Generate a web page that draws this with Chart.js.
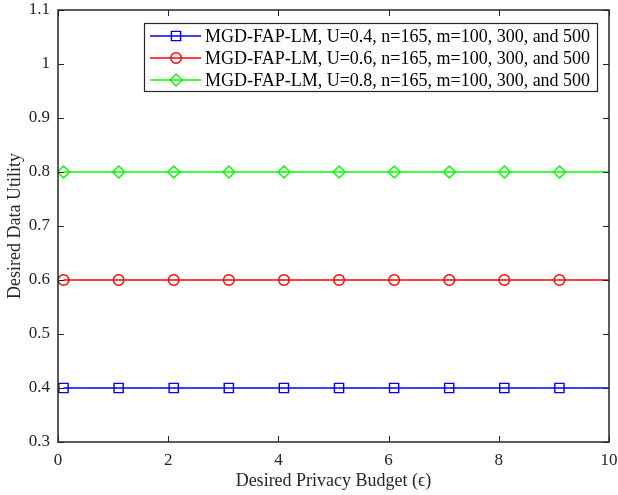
<!DOCTYPE html>
<html>
<head>
<meta charset="utf-8">
<script src="https://cdn.jsdelivr.net/npm/chart.js@4.4.0/dist/chart.umd.min.js"></script>
<style>
  html, body { margin: 0; padding: 0; background: #fff; }
  #wrap { width: 618px; height: 495px; position: relative; }
</style>
</head>
<body>
<div id="wrap"><canvas id="chart" width="618" height="495"></canvas></div>
<script>
// Data
const budgetX = [0.1, 1.1, 2.1, 3.1, 4.1, 5.1, 6.1, 7.1, 8.1, 9.1, 10];
const utility04 = [0.4, 0.4, 0.4, 0.4, 0.4, 0.4, 0.4, 0.4, 0.4, 0.4, 0.4];
const utility06 = [0.6, 0.6, 0.6, 0.6, 0.6, 0.6, 0.6, 0.6, 0.6, 0.6, 0.6];
const utility08 = [0.8, 0.8, 0.8, 0.8, 0.8, 0.8, 0.8, 0.8, 0.8, 0.8, 0.8];
const seriesLabels = [
    'MGD-FAP-LM, U=0.4, n=165, m=100, 300, and 500',
    'MGD-FAP-LM, U=0.6, n=165, m=100, 300, and 500',
    'MGD-FAP-LM, U=0.8, n=165, m=100, 300, and 500'
];
const xTicks = [0, 2, 4, 6, 8, 10];
const yTicks = [0.3, 0.4, 0.5, 0.6, 0.7, 0.8, 0.9, 1, 1.1];

const FONT = '"Liberation Serif", "Times New Roman", serif';

function toPoints(xs, ys) {
    return xs.map((x, i) => ({ x: x, y: ys[i] }));
}

// last point has no marker (line runs to the right edge)
function radii(r) {
    return budgetX.map((x, i) => i === budgetX.length - 1 ? 0 : r);
}

const datasets = [
    { label: seriesLabels[0], data: toPoints(budgetX, utility04), borderColor: '#0000ff', pointStyle: 'rect', pointRadius: radii(6.5) },
    { label: seriesLabels[1], data: toPoints(budgetX, utility06), borderColor: '#ff0000', pointStyle: 'circle', pointRadius: radii(5.3) },
    { label: seriesLabels[2], data: toPoints(budgetX, utility08), borderColor: '#00ff00', pointStyle: 'rectRot', pointRadius: radii(6) }
].map(d => Object.assign(d, {
    showLine: true,
    borderWidth: 1.4,
    pointBorderColor: d.borderColor,
    pointBackgroundColor: 'rgba(0,0,0,0)',
    pointBorderWidth: 1.4,
    pointHoverRadius: 0,
    fill: false,
    tension: 0
}));

// box, inward ticks, and MATLAB style legend
const matlabFrame = {
    id: 'matlabFrame',
    afterDraw(chart) {
        const ctx = chart.ctx;
        const a = chart.chartArea;
        const xs = chart.scales.x, ys = chart.scales.y;
        ctx.save();
        ctx.strokeStyle = '#262626';
        ctx.lineWidth = 1;
        ctx.beginPath();
        xTicks.forEach(v => {
            const px = Math.round(xs.getPixelForValue(v)) + 0.5;
            ctx.moveTo(px, a.bottom); ctx.lineTo(px, a.bottom - 6);
            ctx.moveTo(px, a.top); ctx.lineTo(px, a.top + 6);
        });
        yTicks.forEach(v => {
            const py = Math.round(ys.getPixelForValue(v)) + 0.5;
            ctx.moveTo(a.left, py); ctx.lineTo(a.left + 6, py);
            ctx.moveTo(a.right, py); ctx.lineTo(a.right - 6, py);
        });
        ctx.stroke();
        ctx.lineWidth = 1.5;
        ctx.strokeRect(a.left, a.top, a.right - a.left, a.bottom - a.top);

        // legend
        const lx = 144, ly = 23, lw = 453, lh = 68;
        ctx.fillStyle = '#fff';
        ctx.fillRect(lx, ly, lw, lh);
        ctx.lineWidth = 1.2;
        ctx.strokeStyle = '#262626';
        ctx.strokeRect(lx + 0.5, ly + 0.5, lw, lh);
        ctx.font = '18px ' + FONT;
        ctx.textBaseline = 'middle';
        chart.data.datasets.forEach((d, i) => {
            const cy = ly + 13 + i * 22;
            ctx.strokeStyle = d.borderColor;
            ctx.lineWidth = 1.4;
            ctx.beginPath();
            ctx.moveTo(lx + 6, cy); ctx.lineTo(lx + 57, cy);
            ctx.stroke();
            ctx.fillStyle = 'rgba(0,0,0,0)';
            Chart.helpers.drawPoint(ctx, {
                pointStyle: d.pointStyle,
                radius: d.pointRadius[0],
                borderWidth: 1.4
            }, lx + 32, cy);
            ctx.fillStyle = '#000';
            ctx.fillText(d.label, lx + 61, cy + 1);
        });
        ctx.restore();
    }
};

new Chart(document.getElementById('chart'), {
    type: 'scatter',
    data: { datasets: datasets },
    options: {
        responsive: false,
        animation: false,
        devicePixelRatio: 1,
        layout: { padding: { top: 10, right: 9, left: 0, bottom: 0 } },
        plugins: { legend: { display: false }, tooltip: { enabled: false } },
        scales: {
            x: {
                type: 'linear',
                min: 0, max: 10,
                afterBuildTicks: s => { s.ticks = xTicks.map(v => ({ value: v })); },
                afterFit: s => { s.height = 53; s.paddingLeft = 0; s.paddingRight = 0; },
                grid: { display: false, drawTicks: false },
                border: { display: false },
                ticks: { color: '#262626', font: { family: FONT, size: 17 }, padding: 8, maxRotation: 0 },
                title: { display: true, text: 'Desired Privacy Budget (\u03f5)', color: '#262626', font: { family: FONT, size: 18 }, padding: { top: 2, bottom: 3 } }
            },
            y: {
                type: 'linear',
                min: 0.3, max: 1.1,
                afterBuildTicks: s => { s.ticks = yTicks.map(v => ({ value: v })); },
                afterFit: s => { s.width = 58; s.paddingTop = 0; s.paddingBottom = 0; },
                grid: { display: false, drawTicks: false },
                border: { display: false },
                ticks: { color: '#262626', font: { family: FONT, size: 17 }, padding: 8, callback: v => String(Math.round(v * 10) / 10) },
                title: { display: true, text: 'Desired Data Utility', color: '#262626', font: { family: FONT, size: 18 }, padding: { top: 4, bottom: 0 } }
            }
        }
    },
    plugins: [matlabFrame]
});
</script>
</body>
</html>
